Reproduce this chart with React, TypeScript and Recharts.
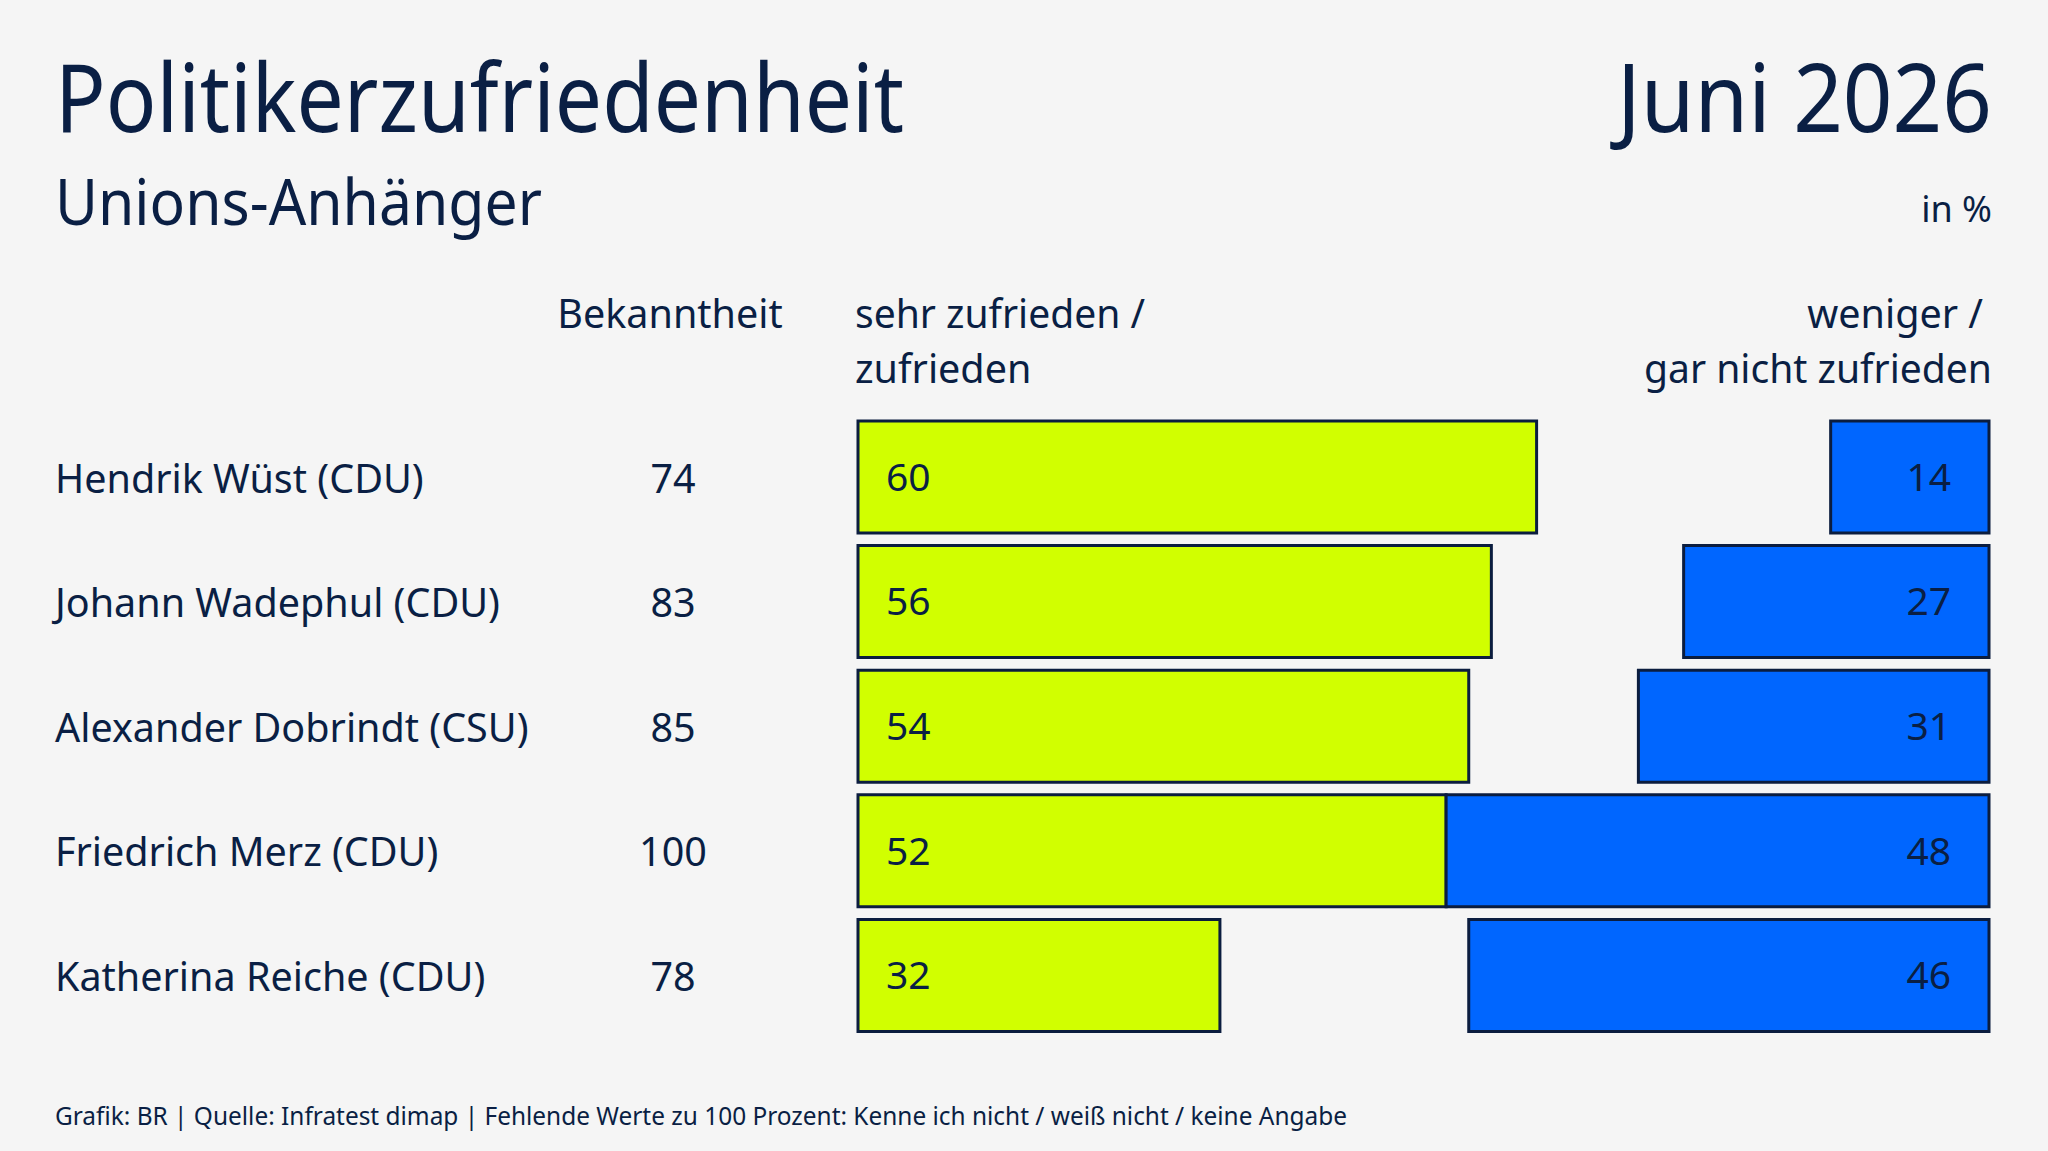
import React from "react";
import { BarChart, Bar, XAxis, YAxis, LabelList } from "recharts";

// Politikerzufriedenheit – Unions-Anhänger, Juni 2026 (Werte in %)
const politiker = [
  "Hendrik Wüst (CDU)",
  "Johann Wadephul (CDU)",
  "Alexander Dobrindt (CSU)",
  "Friedrich Merz (CDU)",
  "Katherina Reiche (CDU)",
];
const bekanntheit = [74, 83, 85, 100, 78];
const zufrieden = [60, 56, 54, 52, 32];
const unzufrieden = [14, 27, 31, 48, 46];

const INK = "#0a1f44";
const EDGE = "#0b1d3f";
const GREEN = "#d1ff00";
const BLUE = "#0066ff";
const FONT = "'Noto Sans', sans-serif";

// grüner Balken links, blauer rechts bündig, Lücke dazwischen unsichtbar
const rows = politiker.map((name, i) => ({
  name,
  zufrieden: zufrieden[i],
  luecke: 100 - zufrieden[i] - unzufrieden[i],
  unzufrieden: unzufrieden[i],
}));

const NameTick = (props: any) => {
  const { y, index, payload } = props;
  return (
    <g>
      <text x={55} y={y + 1} dy="0.36em" fill={INK} fontSize={39.5} fontFamily={FONT}>
        {payload.value}
      </text>
      <text x={673} y={y + 1} dy="0.36em" fill={INK} fontSize={39.5} fontFamily={FONT} textAnchor="middle">
        {bekanntheit[index]}
      </text>
    </g>
  );
};

export default function App() {
  return (
    <div
      style={{
        position: "relative",
        width: 2048,
        height: 1151,
        background: "#f5f5f5",
        fontFamily: FONT,
        overflow: "hidden",
      }}
    >
      <style>{"body{margin:0}"}</style>
      <BarChart
        width={2048}
        height={1151}
        data={rows}
        layout="vertical"
        margin={{ top: 415, right: 59, bottom: 113, left: 55 }}
      >
        <XAxis type="number" domain={[0, 100]} hide />
        <YAxis
          type="category"
          dataKey="name"
          width={803}
          axisLine={false}
          tickLine={false}
          tick={<NameTick />}
        />
        <Bar
          dataKey="zufrieden"
          stackId="a"
          fill={GREEN}
          stroke={EDGE}
          strokeWidth={3}
          barSize={112}
          isAnimationActive={false}
        >
          <LabelList
            dataKey="zufrieden"
            position="insideLeft"
            offset={28}
            fill={INK}
            fontSize={39}
            fontFamily={FONT}
          />
        </Bar>
        <Bar dataKey="luecke" stackId="a" fill="transparent" barSize={112} isAnimationActive={false} />
        <Bar
          dataKey="unzufrieden"
          stackId="a"
          fill={BLUE}
          stroke={EDGE}
          strokeWidth={3}
          barSize={112}
          isAnimationActive={false}
        >
          <LabelList
            dataKey="unzufrieden"
            position="insideRight"
            offset={38}
            fill={INK}
            fontSize={39}
            fontFamily={FONT}
          />
        </Bar>
      </BarChart>
      <svg
        width={2048}
        height={1151}
        style={{ position: "absolute", left: 0, top: 0, pointerEvents: "none" }}
        fontFamily={FONT}
        fill={INK}
      >
        <text x={55} y={132} fontSize={95} textLength={849} lengthAdjust="spacingAndGlyphs">
          Politikerzufriedenheit
        </text>
        <text x={1617} y={132} fontSize={95} textLength={375} lengthAdjust="spacingAndGlyphs">
          Juni 2026
        </text>
        <text x={55} y={225} fontSize={64} textLength={487} lengthAdjust="spacingAndGlyphs">
          Unions-Anhänger
        </text>
        <text x={1992} y={222} fontSize={36} textAnchor="end">
          in %
        </text>
        <text x={670} y={328} fontSize={39.5} textAnchor="middle">
          Bekanntheit
        </text>
        <text x={855} y={328} fontSize={39.5} textLength={290} lengthAdjust="spacingAndGlyphs">
          sehr zufrieden /
        </text>
        <text x={855} y={383} fontSize={39.5}>
          zufrieden
        </text>
        <text x={1983} y={328} fontSize={39.5} textAnchor="end">
          weniger /
        </text>
        <text x={1644} y={383} fontSize={39.5} textLength={348} lengthAdjust="spacingAndGlyphs">
          gar nicht zufrieden
        </text>
        <text x={55} y={1125} fontSize={25} textLength={1292} lengthAdjust="spacingAndGlyphs">
          Grafik: BR | Quelle: Infratest dimap | Fehlende Werte zu 100 Prozent: Kenne ich nicht / weiß nicht / keine Angabe
        </text>
      </svg>
    </div>
  );
}
